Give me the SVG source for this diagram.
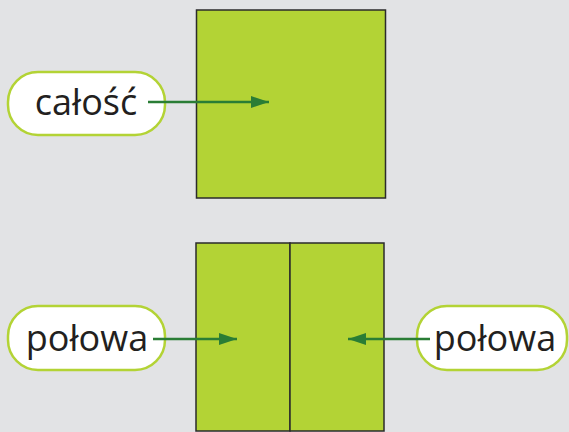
<svg xmlns="http://www.w3.org/2000/svg" width="569" height="432" viewBox="0 0 569 432">
<style>
.sq{fill:#b3d335;stroke:#2b2b2b;stroke-width:1.5}
.pill{fill:#ffffff;stroke:#b3d335;stroke-width:2.5}
.lbl{font-family:"Open Sans","Noto Sans",sans-serif;font-size:36px;fill:#231f20;text-anchor:middle}
.arr{stroke:#2a7d35;stroke-width:2.5;fill:none}
</style>
<defs>
<marker id="ah" viewBox="0 0 18 12" refX="18" refY="6" markerWidth="18" markerHeight="12" markerUnits="userSpaceOnUse" orient="auto">
<path d="M0,0 L18,6 L0,12 Z" fill="#2a7d35"/>
</marker>
</defs>
<rect width="569" height="432" fill="#e2e3e5"/>
<g id="whole">
<rect class="sq" x="196.5" y="10" width="189" height="188"/>
</g>
<g id="halves">
<rect class="sq" x="196" y="243" width="94" height="188"/>
<rect class="sq" x="290" y="243" width="94" height="188"/>
</g>
<g id="label-calosc">
<rect class="pill" x="8" y="72" width="157" height="63" rx="30"/>
<text class="lbl" x="86" y="115">całość</text>
</g>
<g id="label-polowa-left">
<rect class="pill" x="8" y="306" width="157" height="64" rx="30"/>
<text class="lbl" x="87" y="351">połowa</text>
</g>
<g id="label-polowa-right">
<rect class="pill" x="417" y="306" width="150" height="64" rx="30"/>
<text class="lbl" x="495" y="351">połowa</text>
</g>
<g id="connectors">
<line class="arr" x1="148" y1="102" x2="269" y2="102" marker-end="url(#ah)"/>
<line class="arr" x1="153" y1="339" x2="237" y2="339" marker-end="url(#ah)"/>
<line class="arr" x1="430" y1="339" x2="348" y2="339" marker-end="url(#ah)"/>
</g>
</svg>
